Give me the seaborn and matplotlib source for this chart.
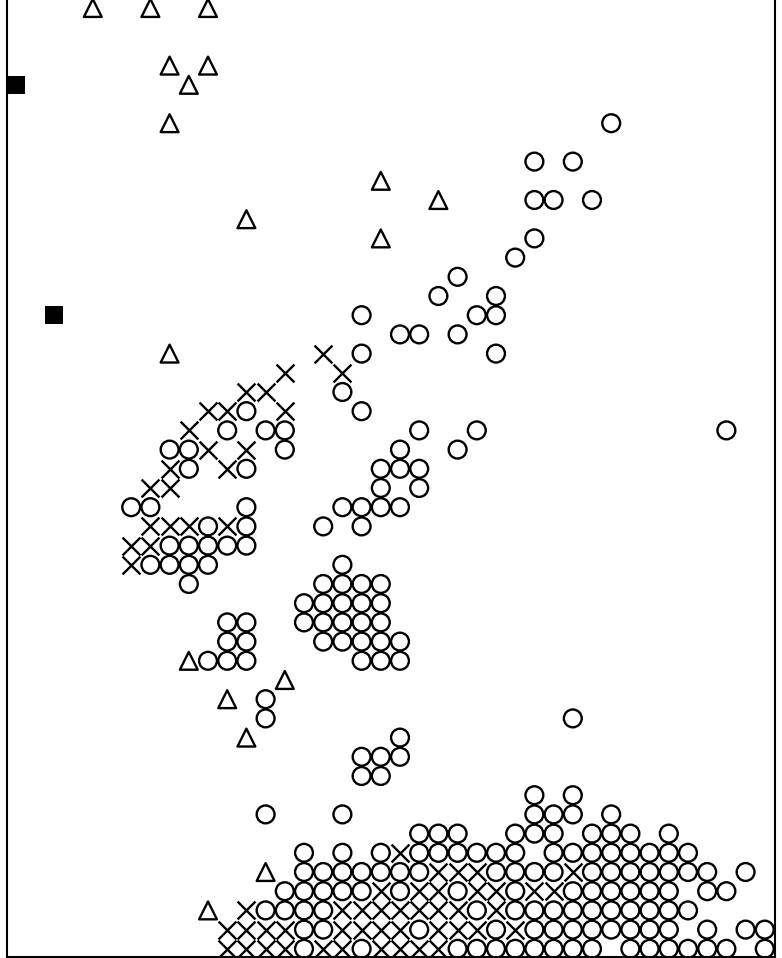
import matplotlib
matplotlib.use("Agg")
import matplotlib.pyplot as plt
import seaborn as sns
import pandas as pd

# ---- data (grid column x, grid row y; y=0 is the bottom row) ----
circle_x = [31,
            27, 29,
            27, 28, 30,
            27,
            26,
            23,
            22, 25,
            18, 24, 25,
            20, 21, 23,
            18, 25,
            17,
            12, 18,
            11, 13, 14, 21, 24, 37,
            8, 9, 14, 20, 23,
            9, 12, 19, 20, 21,
            19, 21,
            6, 7, 12, 17, 18, 19, 20,
            10, 12, 16, 18,
            8, 9, 10, 11, 12,
            7, 8, 9, 10, 17,
            9, 16, 17, 18, 19,
            15, 16, 17, 18, 19,
            11, 12, 15, 16, 17, 18, 19,
            11, 12, 16, 17, 18, 19, 20,
            10, 11, 12, 18, 19, 20,
            13,
            13, 29,
            20,
            18, 19, 20,
            18, 19,
            27, 29,
            13, 17, 27, 28, 29, 31,
            21, 22, 23, 26, 27, 28, 30, 31, 32, 34,
            15, 17, 19, 21, 22, 23, 24, 25, 26, 28, 29, 30, 31, 32, 33, 34, 35,
            15, 16, 17, 18, 19, 20, 21, 25, 26, 27, 28, 30, 31, 32, 33, 34, 35, 36, 38,
            14, 15, 16, 17, 18, 20, 23, 26, 29, 30, 31, 32, 33, 34, 36, 37,
            13, 14, 15, 16, 24, 26, 27, 28, 29, 30, 31, 32, 33, 34, 35,
            15, 16, 21, 25, 27, 28, 29, 30, 31, 32, 33, 34, 36, 38, 39,
            15, 18, 23, 24, 25, 26, 27, 28, 29, 30, 32, 33, 34, 35, 36, 37, 39]
circle_y = [43,
            41, 41,
            39, 39, 39,
            37,
            36,
            35,
            34, 34,
            33, 33, 33,
            32, 32, 32,
            31, 31,
            29,
            28, 28,
            27, 27, 27, 27, 27, 27,
            26, 26, 26, 26, 26,
            25, 25, 25, 25, 25,
            24, 24,
            23, 23, 23, 23, 23, 23, 23,
            22, 22, 22, 22,
            21, 21, 21, 21, 21,
            20, 20, 20, 20, 20,
            19, 19, 19, 19, 19,
            18, 18, 18, 18, 18,
            17, 17, 17, 17, 17, 17, 17,
            16, 16, 16, 16, 16, 16, 16,
            15, 15, 15, 15, 15, 15,
            13,
            12, 12,
            11,
            10, 10, 10,
            9, 9,
            8, 8,
            7, 7, 7, 7, 7, 7,
            6, 6, 6, 6, 6, 6, 6, 6, 6, 6,
            5, 5, 5, 5, 5, 5, 5, 5, 5, 5, 5, 5, 5, 5, 5, 5, 5,
            4, 4, 4, 4, 4, 4, 4, 4, 4, 4, 4, 4, 4, 4, 4, 4, 4, 4, 4,
            3, 3, 3, 3, 3, 3, 3, 3, 3, 3, 3, 3, 3, 3, 3, 3,
            2, 2, 2, 2, 2, 2, 2, 2, 2, 2, 2, 2, 2, 2, 2,
            1, 1, 1, 1, 1, 1, 1, 1, 1, 1, 1, 1, 1, 1, 1,
            0, 0, 0, 0, 0, 0, 0, 0, 0, 0, 0, 0, 0, 0, 0, 0, 0]

cross_x = [16,
           14, 17,
           12, 13,
           10, 11, 14,
           9,
           10, 12,
           8, 11,
           7, 8,
           7, 8, 9, 11,
           6, 7,
           6,
           20,
           22, 23, 24, 29,
           19, 21, 22, 24, 25, 27, 28,
           12, 17, 18, 19, 20, 21, 22, 23, 25,
           11, 12, 13, 14, 17, 18, 19, 20, 22, 23, 24, 26,
           11, 12, 13, 14, 16, 17, 19, 20, 21, 22]
cross_y = [31,
           30, 30,
           29, 29,
           28, 28, 28,
           27,
           26, 26,
           25, 25,
           24, 24,
           22, 22, 22, 22,
           21, 21,
           20,
           5,
           4, 4, 4, 4,
           3, 3, 3, 3, 3, 3, 3,
           2, 2, 2, 2, 2, 2, 2, 2, 2,
           1, 1, 1, 1, 1, 1, 1, 1, 1, 1, 1, 1,
           0, 0, 0, 0, 0, 0, 0, 0, 0, 0]

triangle_x = [4, 7, 10, 8, 10, 9, 8, 19, 22, 12, 19, 8, 9, 14, 11, 12, 13, 10]
triangle_y = [49, 49, 49, 46, 46, 45, 43, 40, 39, 38, 37, 31, 15, 14, 13, 11, 4, 2]

square_x = [0, 2]
square_y = [45, 33]

# ---- figure ----
W, H = 782, 958
fig = plt.figure(figsize=(W / 100, H / 100), dpi=100)
left_px, right_px, bottom_px, top_px = 7, 775, 957, 0
ax = fig.add_axes([left_px / W, (H - bottom_px) / H,
                   (right_px - left_px) / W, (bottom_px - top_px) / H])

size = 165
lw = 1.7

sns.scatterplot(x=circle_x, y=circle_y, ax=ax, marker="o", s=size,
                facecolor="none", edgecolor="black", linewidth=lw, legend=False)
sns.scatterplot(x=cross_x, y=cross_y, ax=ax, marker="x", s=size,
                color="black", linewidth=lw, legend=False)
sns.scatterplot(x=triangle_x, y=triangle_y, ax=ax, marker="^", s=size,
                facecolor="none", edgecolor="black", linewidth=lw, legend=False)
sns.scatterplot(x=square_x, y=square_y, ax=ax, marker="s", s=size,
                color="black", edgecolor="black", linewidth=0, legend=False)

# pixel -> data mapping of the reference grid (19.2 px per cell)
cell = 19.2
x0_px, r0_px, nrow = 16, 8, 49
ax.set_xlim((left_px - x0_px) / cell, (right_px - x0_px) / cell)
ax.set_ylim(nrow - (bottom_px - r0_px) / cell, nrow - (top_px - r0_px) / cell)

ax.set_xticks([])
ax.set_yticks([])
ax.set_xlabel("")
ax.set_ylabel("")
for side in ["left", "bottom", "right"]:
    ax.spines[side].set_linewidth(1.5)
    ax.spines[side].set_color("black")
ax.spines["top"].set_visible(False)
ax.set_facecolor("white")

fig.savefig("out.png", dpi=100)
